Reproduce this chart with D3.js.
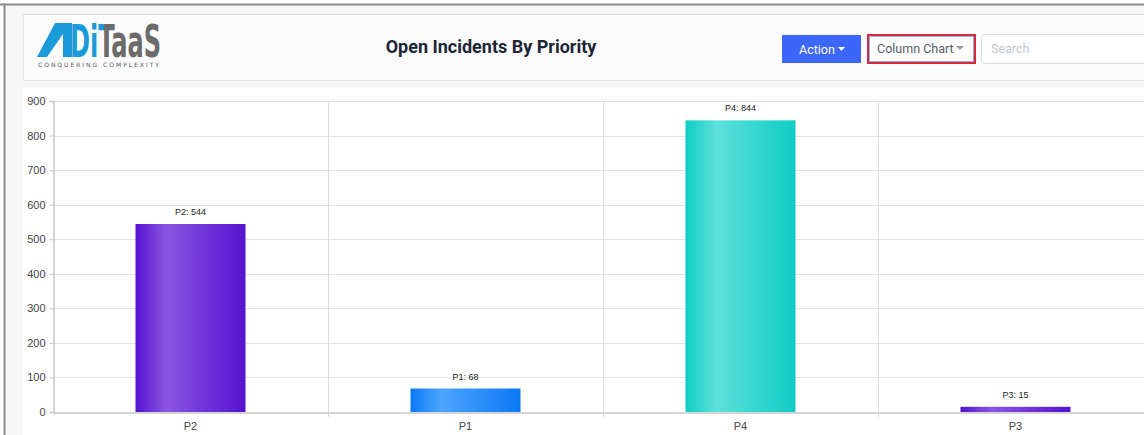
<!DOCTYPE html>
<html>
<head>
<meta charset="utf-8">
<script src="https://cdn.jsdelivr.net/npm/d3@7/dist/d3.min.js"></script>
<style>
  html, body { margin: 0; padding: 0; background: #ffffff; overflow: hidden; }
  svg { display: block; }
</style>
</head>
<body>
<svg id="page" width="1144" height="435"></svg>
<script>
// Open incidents per priority
const categories = ["P2", "P1", "P4", "P3"];
const openCounts = [544, 68, 844, 15];
const yTicks = [0, 100, 200, 300, 400, 500, 600, 700, 800, 900];
const barColors = [
  ["#5512cf", "#8a55e2"],
  ["#0a78f3", "#4ea6ff"],
  ["#0fcdc6", "#5ee0db"],
  ["#5512cf", "#8a55e2"]
];

const svg = d3.select("#page");
const W = 1144, H = 435;
const defs = svg.append("defs");

// page frame
svg.append("rect").attr("x", 0).attr("y", 0).attr("width", W).attr("height", H).attr("fill", "#ffffff");
svg.append("rect").attr("x", 5).attr("y", 5).attr("width", W - 5).attr("height", H - 5).attr("fill", "#f7f7f8");
svg.append("rect").attr("x", 0).attr("y", 3.5).attr("width", W).attr("height", 2).attr("fill", "#8a8a8a");
svg.append("rect").attr("x", 3.5).attr("y", 3.5).attr("width", 2).attr("height", H).attr("fill", "#8a8a8a");

// header card
svg.append("rect").attr("x", 23.5).attr("y", 14.5).attr("width", W).attr("height", 66)
  .attr("fill", "#fcfcfd").attr("stroke", "#e2e4ea");

// logo: blue "ADi", grey "TaaS"
const logoFill = defs.append("linearGradient").attr("id", "logoFill")
  .attr("gradientUnits", "userSpaceOnUse").attr("x1", 70).attr("x2", 160).attr("y1", 0).attr("y2", 0);
const split = (104 - 70) / 90;
logoFill.append("stop").attr("offset", 0).attr("stop-color", "#1a9ad8");
logoFill.append("stop").attr("offset", split).attr("stop-color", "#1a9ad8");
logoFill.append("stop").attr("offset", split).attr("stop-color", "#6b6b6b");
logoFill.append("stop").attr("offset", 1).attr("stop-color", "#6b6b6b");

const logo = svg.append("g");
logo.append("path")
  .attr("d", "M37,57 L55,23 L72,23 L72,57 L63,57 L63,34 L47,57 Z")
  .attr("fill", "#1a9ad8");
logo.append("text").attr("x", 70).attr("y", 57)
  .attr("font-family", "DejaVu Sans Condensed, DejaVu Sans").attr("font-weight", "bold")
  .attr("font-size", 44).attr("textLength", 91).attr("lengthAdjust", "spacingAndGlyphs")
  .attr("fill", "url(#logoFill)").text("DiTaaS");
logo.append("text").attr("x", 38).attr("y", 66.5)
  .attr("font-family", "DejaVu Sans").attr("font-size", 6).attr("fill", "#555")
  .attr("textLength", 121).attr("lengthAdjust", "spacing").text("CONQUERING COMPLEXITY");

// title
svg.append("text").attr("x", 491).attr("y", 52.5).attr("text-anchor", "middle")
  .attr("font-family", "Roboto").attr("font-weight", "bold").attr("font-size", 18)
  .attr("fill", "#1c2536").text("Open Incidents By Priority");

// Action button
svg.append("rect").attr("x", 782).attr("y", 35).attr("width", 79).attr("height", 28).attr("fill", "#3b66f7");
svg.append("text").attr("x", 799).attr("y", 54).attr("font-family", "Roboto").attr("font-size", 12.5)
  .attr("fill", "#ffffff").text("Action");
svg.append("path").attr("d", "M838,47 L845,47 L841.5,51 Z").attr("fill", "#ffffff");

// Column Chart selector
svg.append("rect").attr("x", 868).attr("y", 35).attr("width", 107).attr("height", 28)
  .attr("fill", "#ffffff").attr("stroke", "#d42a3c").attr("stroke-width", 2);
svg.append("rect").attr("x", 869.5).attr("y", 36.5).attr("width", 104).attr("height", 25)
  .attr("fill", "none").attr("stroke", "#8fb0ea").attr("stroke-width", 1);
svg.append("text").attr("x", 877).attr("y", 53).attr("font-family", "Roboto").attr("font-size", 12.5)
  .attr("fill", "#555b66").text("Column Chart");
svg.append("path").attr("d", "M956,46 L964,46 L960,50 Z").attr("fill", "#999");

// Search box
svg.append("rect").attr("x", 981.5).attr("y", 34.5).attr("width", 200).attr("height", 29).attr("rx", 3)
  .attr("fill", "#ffffff").attr("stroke", "#d8dce4");
svg.append("text").attr("x", 991).attr("y", 53).attr("font-family", "Roboto").attr("font-size", 12.5)
  .attr("fill", "#c3c6cc").text("Search");

// chart panel
svg.append("rect").attr("x", 23).attr("y", 88).attr("width", W).attr("height", H).attr("fill", "#ffffff");

const plot = { left: 53, right: 1153, top: 101, bottom: 412 };

const x = d3.scaleBand().domain(categories).range([plot.left, plot.right]).paddingInner(0).paddingOuter(0);
const y = d3.scaleLinear().domain([0, 900]).range([plot.bottom, plot.top]);

// bar gradients
barColors.forEach((c, i) => {
  const g = defs.append("linearGradient").attr("id", "bar" + i)
    .attr("x1", "0%").attr("x2", "100%").attr("y1", "0%").attr("y2", "0%");
  g.append("stop").attr("offset", "0%").attr("stop-color", c[0]);
  g.append("stop").attr("offset", "28%").attr("stop-color", c[1]);
  g.append("stop").attr("offset", "100%").attr("stop-color", c[0]);
});

// horizontal grid
svg.append("g").selectAll("line").data(yTicks.slice(1)).join("line")
  .attr("x1", plot.left).attr("x2", W)
  .attr("y1", d => Math.round(y(d)) + 0.5).attr("y2", d => Math.round(y(d)) + 0.5)
  .attr("stroke", "#e3e3e3");

// vertical grid at band boundaries
const bounds = categories.slice(1).map(c => x(c));
svg.append("g").selectAll("line").data(bounds).join("line")
  .attr("x1", d => Math.round(d) + 0.5).attr("x2", d => Math.round(d) + 0.5)
  .attr("y1", plot.top).attr("y2", plot.bottom + 5)
  .attr("stroke", "#dcdcdc");

// y axis
const yAxis = svg.append("g").attr("transform", `translate(${plot.left + 0.5},0)`)
  .call(d3.axisLeft(y).tickValues(yTicks).tickSize(4).tickPadding(4));
yAxis.select(".domain").attr("stroke", "#c8c8c8").attr("stroke-width", 1.5);
yAxis.selectAll(".tick line").attr("stroke", "#c8c8c8");
yAxis.selectAll(".tick text").attr("font-family", "Liberation Sans, Arial").attr("font-size", 11).attr("fill", "#444");

// x axis
const xAxis = svg.append("g").attr("transform", `translate(0,${plot.bottom + 0.5})`)
  .call(d3.axisBottom(x).tickSize(0).tickPadding(10));
xAxis.select(".domain").attr("stroke", "#c8c8c8").attr("stroke-width", 1.5);
xAxis.selectAll(".tick text").attr("font-family", "Liberation Sans, Arial").attr("font-size", 11).attr("fill", "#444");

// bars
const bw = x.bandwidth() * 0.4;
svg.append("g").selectAll("rect").data(categories).join("rect")
  .attr("x", d => x(d) + (x.bandwidth() - bw) / 2)
  .attr("width", bw)
  .attr("y", (d, i) => y(openCounts[i]))
  .attr("height", (d, i) => y(0) - y(openCounts[i]))
  .attr("fill", (d, i) => `url(#bar${i})`);

// value labels
svg.append("g").selectAll("text").data(categories).join("text")
  .attr("x", d => x(d) + x.bandwidth() / 2)
  .attr("y", (d, i) => y(openCounts[i]) - 9)
  .attr("text-anchor", "middle")
  .attr("font-family", "Liberation Sans, Arial").attr("font-size", 9).attr("fill", "#222")
  .text((d, i) => `${d}: ${openCounts[i]}`);
</script>
</body>
</html>
